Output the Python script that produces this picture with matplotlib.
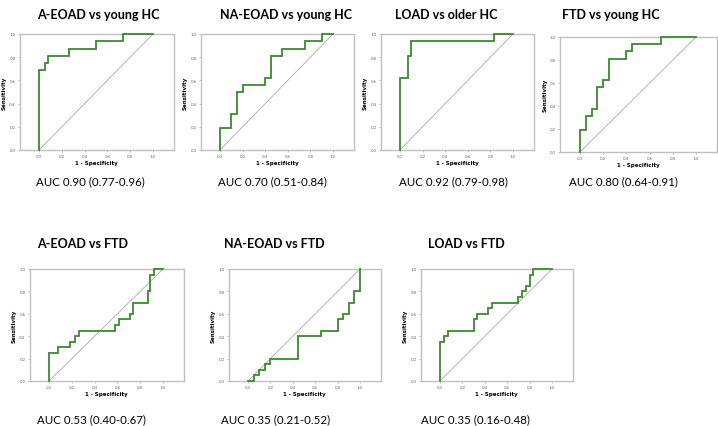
import matplotlib
matplotlib.use("Agg")
import matplotlib.pyplot as plt

plt.rcParams['font.family'] = ['Lato', 'DejaVu Sans']

titles = ["A-EOAD vs young HC", "NA-EOAD vs young HC", "LOAD vs older HC", "FTD vs young HC",
          "A-EOAD vs FTD", "NA-EOAD vs FTD", "LOAD vs FTD"]
auc_labels = ["AUC 0.90 (0.77-0.96)", "AUC 0.70 (0.51-0.84)", "AUC 0.92 (0.79-0.98)",
              "AUC 0.80 (0.64-0.91)", "AUC 0.53 (0.40-0.67)", "AUC 0.35 (0.21-0.52)",
              "AUC 0.35 (0.16-0.48)"]

# ROC step points: (1 - specificity, sensitivity)
fpr_1 = [0, 0, 0.05, 0.05, 0.08, 0.08, 0.26, 0.26, 0.50, 0.50, 0.74, 0.74, 1.0]
tpr_1 = [0, 0.6875, 0.6875, 0.75, 0.75, 0.8125, 0.8125, 0.875, 0.875, 0.9375, 0.9375, 1.0, 1.0]

fpr_2 = [0, 0, 0.10, 0.10, 0.15, 0.15, 0.20, 0.20, 0.40, 0.40, 0.45, 0.45, 0.55, 0.55, 0.75, 0.75, 0.90, 0.90, 1.0]
tpr_2 = [0, 0.1875, 0.1875, 0.3125, 0.3125, 0.5, 0.5, 0.5625, 0.5625, 0.625, 0.625, 0.8125, 0.8125,
         0.875, 0.875, 0.9375, 0.9375, 1.0, 1.0]

fpr_3 = [0, 0, 0.067, 0.067, 0.10, 0.10, 0.833, 0.833, 1.0]
tpr_3 = [0, 0.625, 0.625, 0.8125, 0.8125, 0.9375, 0.9375, 1.0, 1.0]

fpr_4 = [0, 0, 0.05, 0.05, 0.10, 0.10, 0.15, 0.15, 0.20, 0.20, 0.25, 0.25, 0.40, 0.40, 0.45, 0.45, 0.70, 0.70, 1.0]
tpr_4 = [0, 0.1875, 0.1875, 0.3125, 0.3125, 0.375, 0.375, 0.5625, 0.5625, 0.625, 0.625, 0.8125, 0.8125,
         0.875, 0.875, 0.9375, 0.9375, 1.0, 1.0]

fpr_5 = [0, 0, 0.08, 0.08, 0.18, 0.18, 0.23, 0.23, 0.26, 0.26, 0.58, 0.58, 0.61, 0.61, 0.71, 0.71,
         0.74, 0.74, 0.87, 0.87, 0.89, 0.89, 0.92, 0.92, 1.0]
tpr_5 = [0, 0.25, 0.25, 0.30, 0.30, 0.35, 0.35, 0.40, 0.40, 0.45, 0.45, 0.50, 0.50, 0.55, 0.55, 0.60,
         0.60, 0.70, 0.70, 0.80, 0.80, 0.95, 0.95, 1.0, 1.0]

fpr_6 = [0, 0.05, 0.05, 0.10, 0.10, 0.15, 0.15, 0.20, 0.20, 0.45, 0.45, 0.65, 0.65, 0.80, 0.80,
         0.85, 0.85, 0.90, 0.90, 0.95, 0.95, 1.0, 1.0]
tpr_6 = [0, 0, 0.05, 0.05, 0.10, 0.10, 0.15, 0.15, 0.20, 0.20, 0.40, 0.40, 0.45, 0.45, 0.55,
         0.55, 0.60, 0.60, 0.70, 0.70, 0.80, 0.80, 1.0]

fpr_7 = [0, 0, 0.033, 0.033, 0.067, 0.067, 0.30, 0.30, 0.333, 0.333, 0.433, 0.433, 0.467, 0.467,
         0.70, 0.70, 0.733, 0.733, 0.767, 0.767, 0.80, 0.80, 0.833, 0.833, 1.0]
tpr_7 = [0, 0.35, 0.35, 0.40, 0.40, 0.45, 0.45, 0.55, 0.55, 0.60, 0.60, 0.65, 0.65, 0.70,
         0.70, 0.75, 0.75, 0.80, 0.80, 0.85, 0.85, 0.95, 0.95, 1.0, 1.0]

curves = [(fpr_1, tpr_1), (fpr_2, tpr_2), (fpr_3, tpr_3), (fpr_4, tpr_4),
          (fpr_5, tpr_5), (fpr_6, tpr_6), (fpr_7, tpr_7)]

# layout in pixels: x of 0.0, px per unit, top, bottom of plot box
W, H = 718, 427
boxes = [(39, 114, 35, 151), (220, 113, 35, 151), (400, 113, 35, 151), (580, 116, 38, 153),
         (49, 114, 270, 382), (248, 112, 270, 382), (440, 112, 270, 382)]
title_pos = [(98, 15), (286, 15), (446, 15), (611, 15), (83, 244), (274, 244), (466, 244)]
auc_pos = [(90, 182), (272, 182), (453, 182), (623, 182), (91, 420), (276, 420), (475, 420)]
x_lo, x_hi = -0.17, 1.185

fig = plt.figure(figsize=(W / 100, H / 100), dpi=100)

for i in range(7):
    x0, unit, top, bot = boxes[i]
    left = x0 + x_lo * unit
    width = (x_hi - x_lo) * unit
    ax = fig.add_axes([left / W, 1 - bot / H, width / W, (bot - top) / H])
    fpr, tpr = curves[i]
    ax.plot([0, 1], [0, 1], color='#a8a8a8', lw=0.6)
    ax.plot(fpr, tpr, color='#3b8a2f', lw=1.3, solid_joinstyle='miter', zorder=4, clip_on=False)
    ax.set_xlim(x_lo, x_hi)
    ax.set_ylim(0, 1)
    ticks = [0, 0.2, 0.4, 0.6, 0.8, 1.0]
    ax.set_xticks(ticks)
    ax.set_yticks(ticks)
    ax.set_xticklabels([f"{t:.1f}" for t in ticks])
    ax.set_yticklabels([f"{t:.1f}" for t in ticks])
    ax.tick_params(labelsize=3.2, length=1.5, width=0.4, colors='#909090', pad=1.5, labelcolor='#666666')
    for s in ax.spines.values():
        s.set_color('#c0c0c0')
        s.set_linewidth(1.0)
    ax.set_xlabel("1 - Specificity", fontsize=4, fontweight='bold', labelpad=1.5, family='DejaVu Sans')
    ax.set_ylabel("Sensitivity", fontsize=4, fontweight='bold', labelpad=2, family='DejaVu Sans')

    tx, ty = title_pos[i]
    fig.text(tx / W, 1 - ty / H, titles[i], ha='center', va='center', fontsize=9, fontweight='bold')
    axx, axy = auc_pos[i]
    fig.text(axx / W, 1 - axy / H, auc_labels[i], ha='center', va='center', fontsize=8.3)

fig.savefig("out.png", dpi=100)
